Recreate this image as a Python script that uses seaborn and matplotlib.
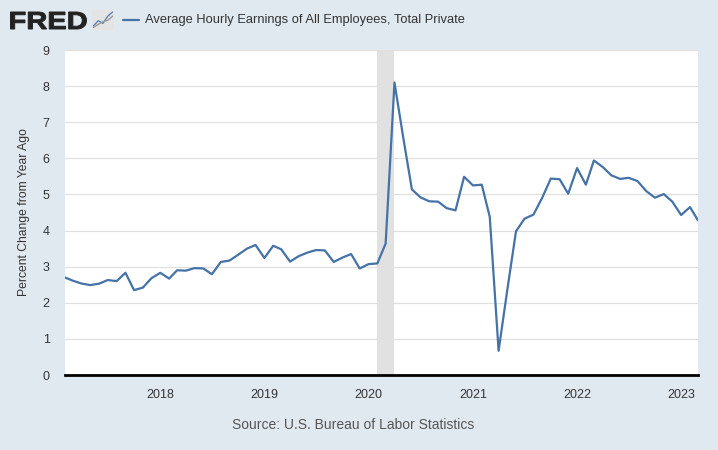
import matplotlib
matplotlib.use("Agg")
import matplotlib.pyplot as plt
import pandas as pd
import seaborn as sns
from matplotlib.font_manager import FontProperties
from matplotlib.patches import PathPatch
from matplotlib.textpath import TextPath
from matplotlib.transforms import Affine2D, IdentityTransform

# monthly percent change from year ago, Feb 2017 .. Mar 2023
start_month = "2017-02-01"
pct_change = [
    2.70, 2.61, 2.53, 2.49, 2.53, 2.63, 2.60, 2.83, 2.35, 2.42, 2.68,
    2.83, 2.67, 2.90, 2.89, 2.96, 2.95, 2.79, 3.13, 3.17, 3.33, 3.50, 3.60,
    3.24, 3.58, 3.48, 3.14, 3.29, 3.39, 3.46, 3.45, 3.13, 3.25, 3.35, 2.95,
    3.07, 3.09, 3.64, 8.10, 6.61, 5.14, 4.92, 4.81, 4.80, 4.62, 4.56, 5.49,
    5.25, 5.27, 4.38, 0.67, 2.33, 3.98, 4.33, 4.44, 4.91, 5.44, 5.42, 5.02,
    5.73, 5.27, 5.94, 5.76, 5.53, 5.43, 5.46, 5.37, 5.09, 4.91, 5.01, 4.80,
    4.43, 4.65, 4.28,
]
recession = ("2020-02-01", "2020-04-01")
year_ticks = ["2018", "2019", "2020", "2021", "2022", "2023"]
series_name = "Average Hourly Earnings of All Employees, Total Private"
source_text = "Source: U.S. Bureau of Labor Statistics"

dates = pd.date_range(start_month, periods=len(pct_change), freq="MS")
df = pd.DataFrame({"date": dates, "value": pct_change})

sns.set_style("white")
plt.rcParams["font.family"] = ["Liberation Sans", "DejaVu Sans"]

bg = "#e1e9f0"
line_color = "#4572a7"
text_color = "#333333"

fig = plt.figure(figsize=(7.18, 4.5), dpi=100, facecolor=bg)
ax = fig.add_axes([65 / 718, 75 / 450, 633 / 718, 325 / 450])
ax.set_facecolor("white")

ax.axvspan(pd.Timestamp(recession[0]), pd.Timestamp(recession[1]),
           color="#e1e1e1", lw=0, zorder=1)
sns.lineplot(data=df, x="date", y="value", ax=ax, color=line_color,
             linewidth=1.6, zorder=3)

ax.set_xlim(dates[0], dates[-1])
ax.set_ylim(0, 9)
ax.set_yticks(range(0, 10))
ax.yaxis.grid(True, color="#e0e0e0", linewidth=0.9, zorder=0)
ax.set_axisbelow(True)
ax.set_xticks([pd.Timestamp(f"{y}-01-01") for y in year_ticks])
ax.set_xticklabels(year_ticks)

for side in ["top", "right", "left"]:
    ax.spines[side].set_visible(False)
ax.spines["bottom"].set_color("black")
ax.spines["bottom"].set_linewidth(2)

ax.tick_params(axis="x", length=8, width=0.8, color="#d8d8d8",
               labelsize=9, labelcolor=text_color, pad=2)
ax.tick_params(axis="y", length=0, labelsize=9, labelcolor=text_color, pad=11)

ax.set_xlabel("")
ax.set_ylabel("Percent Change from Year Ago", fontsize=8.7, color=text_color,
              labelpad=9.5)

# header: logo stretched into its pixel box
logo = TextPath((0, 0), "FRED", size=20,
                prop=FontProperties(family="Liberation Sans", weight="bold"))
ext = logo.get_extents()
box_x0, box_x1, box_y0, box_y1 = 10.5, 86.5, 450 - 29, 450 - 12
sx = (box_x1 - box_x0) / ext.width
sy = (box_y1 - box_y0) / ext.height
logo_tf = Affine2D().translate(-ext.x0, -ext.y0).scale(sx, sy).translate(box_x0, box_y0)
fig.add_artist(PathPatch(logo_tf.transform_path(logo), facecolor="#222222",
                         edgecolor="#222222", linewidth=0.7,
                         transform=IdentityTransform()))

icon = fig.add_axes([92 / 718, 1 - 30 / 450, 22 / 718, 20 / 450])
icon.set_facecolor("#e4e4e4")
icon.plot([0, 1, 2, 3, 4], [0.5, 1.5, 1.0, 2.4, 3.2], color="#5a84b8", lw=1)
icon.plot([0, 1, 2, 3, 4], [0.2, 0.8, 1.3, 1.6, 2.4], color="#9a9a9a", lw=1)
icon.set_xlim(-0.3, 4.3)
icon.set_ylim(-0.3, 3.6)
icon.set_xticks([])
icon.set_yticks([])
for s in icon.spines.values():
    s.set_visible(False)

fig.add_artist(plt.Line2D([123 / 718, 139 / 718], [1 - 20 / 450, 1 - 20 / 450],
                          color=line_color, lw=1.6))
fig.text(145 / 718, 1 - 20 / 450, series_name, fontsize=9.25, color=text_color,
         va="center", ha="left")

fig.text(353 / 718, 1 - 425 / 450, source_text, fontsize=10, color="#555555",
         va="center", ha="center")

fig.savefig("out.png", dpi=100, facecolor=bg)
